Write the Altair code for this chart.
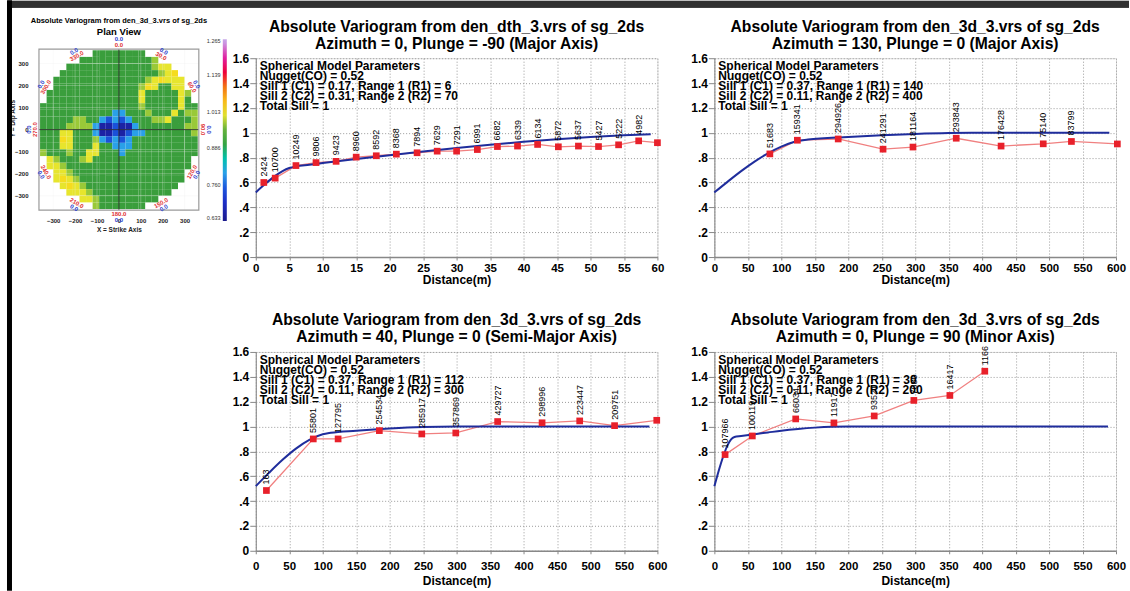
import altair as alt
import numpy as np
import pandas as pd

FONT = "Liberation Sans"

# ---------------- plan view map (cell levels, 30 m cells from -360 to 360) ----------------
plan_rows = [
    "........gggggggg........",
    "......gggggggggggl......",
    "....ggggggggggggglyy....",
    "...ggggggggggggggglyY...",
    "..gggggggggggggglyYyyy..",
    "..ggggggggggggglYyggyy..",
    ".ggggggggggggggygggggyl.",
    ".ggggggggggggggygggggyg.",
    "ggggggggggggggglgggggygg",
    "gggggggggggccggglgggygll",
    "gggggllggcbcbcgggllygggl",
    "ggggllllcBBbBBcgggggggll",
    "gggyygggcBBbBbccgggggggl",
    "gggYyggglcbcbcgggggggggg",
    "gggyygggyggcccgggggggggg",
    "lggglggyygggcggggggggggg",
    ".ylggglyggggggggggggggg.",
    ".yylggggggggggggggggggg.",
    "..yylggggggggggggggggg..",
    "..yYylgggggggggggggggg..",
    "...yYylgggggggggggggg...",
    "....yyylgggggggggggg....",
    "......yylggggggggg......",
    "........lggggggg........",
]
plan_levels = {"B": 0.66, "b": 0.74, "c": 0.80, "g": 0.93, "l": 0.975, "y": 1.005, "Y": 1.025}
plan_cell = 30
plan_extent = 360
plan_ticks = [-300, -200, -100, 0, 100, 200, 300]
plan_grid = [-300, -200, -100, 100, 200, 300]
plan_title = "Absolute Variogram from den_3d_3.vrs of sg_2ds"
plan_subtitle = "Plan View"

color_stops = [0.633, 0.70, 0.76, 0.80, 0.84, 0.87, 0.93, 0.97, 1.00, 1.013, 1.07, 1.139, 1.20, 1.265]
color_hex = ["#1a1a8c", "#1c2fc8", "#2060e0", "#2aa0e8", "#30c8d0", "#2aa84a", "#3a9e3c",
             "#8cc43a", "#e0e030", "#f2ec28", "#f5a020", "#e82020", "#e020a0", "#c8a8e8"]
colorbar_ticks = [0.633, 0.760, 0.886, 1.013, 1.139, 1.265]

azimuths = [0, 30, 60, 90, 120, 150, 180, 210, 240, 270, 300, 330]
azimuth_text = ["0.0", "30.0", "60.0", "90.0", "120.0", "150.0", "180.0", "210.0", "240.0", "270.0", "300.0", "330.0"]
plunge_text = ["0.0"] * 12

# ---------------- experimental variograms ----------------
panel_titles = [
    ["Absolute Variogram from den_dth_3.vrs of sg_2ds", "Azimuth = 0, Plunge = -90 (Major Axis)"],
    ["Absolute Variogram from den_3d_3.vrs of sg_2ds", "Azimuth = 130, Plunge = 0 (Major Axis)"],
    ["Absolute Variogram from den_3d_3.vrs of sg_2ds", "Azimuth = 40, Plunge = 0 (Semi-Major Axis)"],
    ["Absolute Variogram from den_3d_3.vrs of sg_2ds", "Azimuth = 0, Plunge = 90 (Minor Axis)"],
]
nugget = ["0.52", "0.52", "0.52", "0.52"]
sill1 = ["0.17", "0.37", "0.37", "0.37"]
range1 = ["6", "140", "112", "30"]
sill2 = ["0.31", "0.11", "0.11", "0.11"]
range2 = ["70", "400", "300", "200"]
x_max = [60, 600, 600, 600]
x_step = [5, 50, 50, 50]

lag_h1 = [1.2, 2.9, 6.0, 9.0, 12.0, 15.0, 18.0, 21.0, 24.1, 27.1, 30.0, 33.1, 36.1, 39.1, 42.1, 45.2, 48.2, 51.2, 54.2, 57.2, 60.0]
lag_g1 = [0.60, 0.635, 0.736, 0.76, 0.77, 0.804, 0.815, 0.828, 0.839, 0.852, 0.852, 0.865, 0.889, 0.893, 0.906, 0.887, 0.893, 0.889, 0.903, 0.935, 0.92]
lag_n1 = ["2424", "10700", "10249", "9806", "9423", "8960", "8592", "8368", "7894", "7629", "7291", "6991", "6682", "6339", "6134", "5872", "5637", "5427", "5222", "4982", ""]

lag_h2 = [82.9, 124, 185, 252, 296.7, 361.3, 428.3, 491.3, 533.4, 602]
lag_g2 = [0.83, 0.94, 0.95, 0.868, 0.885, 0.956, 0.893, 0.911, 0.93, 0.91]
lag_n2 = ["51683", "159341", "294926", "241291", "181164", "293843", "176428", "75140", "83799", ""]

lag_h3 = [15.9, 85.9, 123, 184.6, 248, 298.8, 361.3, 427.7, 483.9, 536, 599]
lag_g3 = [0.485, 0.90, 0.90, 0.967, 0.94, 0.948, 1.04, 1.03, 1.045, 1.007, 1.05]
lag_n3 = ["163", "55801", "127795", "254534", "285917", "357869", "429727", "298996", "223447", "209751", ""]

lag_h4 = [16, 56.7, 121.5, 178.6, 238.8, 298, 351.8, 404]
lag_g4 = [0.774, 0.924, 1.061, 1.029, 1.085, 1.21, 1.25, 1.445]
lag_n4 = ["107966", "100119", "66034", "11917", "93521", "7680", "16417", "1166"]

# fitted model curves
model_h1 = [0, 1, 2, 3, 4, 5, 6, 8, 10, 15, 20, 25, 30, 35, 40, 45, 50, 55, 59]
model_g1 = [0.52, 0.569, 0.615, 0.657, 0.691, 0.716, 0.730, 0.743, 0.756, 0.788, 0.819, 0.849, 0.877, 0.903, 0.927, 0.948, 0.966, 0.980, 0.989]
model_h2 = [0, 20, 40, 60, 80, 100, 120, 140, 200, 250, 300, 350, 400, 590]
model_g2 = [0.52, 0.607, 0.691, 0.768, 0.835, 0.889, 0.927, 0.945, 0.966, 0.980, 0.991, 0.998, 1.0, 1.0]
model_h3 = [0, 20, 40, 60, 80, 100, 112, 150, 200, 250, 300, 588]
model_g3 = [0.52, 0.629, 0.732, 0.822, 0.892, 0.937, 0.949, 0.966, 0.984, 0.996, 1.0, 1.0]
model_h4 = [0, 5, 10, 15, 20, 25, 30, 40, 60, 80, 100, 125, 150, 175, 200, 588]
model_g4 = [0.52, 0.616, 0.706, 0.787, 0.852, 0.896, 0.915, 0.923, 0.938, 0.952, 0.966, 0.980, 0.991, 0.998, 1.0, 1.0]

y_ticks = [0, 0.2, 0.4, 0.6, 0.8, 1.0, 1.2, 1.4, 1.6]


def variogram_panel(k, lag_h, lag_g, lag_n, model_h, model_g, label_pad, title_pad):
    pairs = pd.DataFrame({"h": lag_h, "gamma": lag_g, "npairs": lag_n})
    model = pd.DataFrame({"h": model_h, "gamma": model_g})
    x_vals = list(range(0, x_max[k] + 1, x_step[k]))
    x_axis = alt.Axis(values=x_vals, tickCount=len(x_vals), title="Distance(m)",
                      titleFontSize=12, titleFontWeight="bold", titleColor="black", titlePadding=title_pad,
                      labelFontSize=11.5, labelFontWeight="bold", labelColor="black", labelPadding=label_pad,
                      tickSize=3, tickColor="#888888", domainColor="#888888", domainWidth=1.5,
                      grid=True, gridColor="#9a9a9a", gridDash=[1, 2], labelFlush=False, labelOverlap=False)
    y_axis = alt.Axis(values=y_ticks, tickCount=len(y_ticks), title=None, labelOverlap=False, labelFlush=False,
                      labelExpr="datum.value == 0 ? '0' : datum.value == 1 ? '1' : datum.value < 1 ? replace(format(datum.value, '.1f'), '0.', '.') : format(datum.value, '.1f')",
                      labelFontSize=12, labelFontWeight="bold", labelColor="black", labelPadding=1,
                      tickSize=6, tickColor="#888888", domainColor="#888888",
                      grid=True, gridColor="#9a9a9a", gridDash=[1, 2])
    xs = alt.Scale(domain=[0, x_max[k]], nice=False, zero=False)
    ys = alt.Scale(domain=[0, 1.6], nice=False)

    exp_line = alt.Chart(pairs).mark_line(color="#f08080", strokeWidth=1.3).encode(
        x=alt.X("h:Q", scale=xs, axis=x_axis), y=alt.Y("gamma:Q", scale=ys, axis=y_axis))
    model_line = alt.Chart(model).mark_line(color="#1f2d9c", strokeWidth=2, interpolate="monotone").encode(
        x="h:Q", y="gamma:Q")
    squares = alt.Chart(pairs).mark_square(color="#e8202a", size=45, opacity=1).encode(x="h:Q", y="gamma:Q")
    counts = alt.Chart(pairs).mark_text(angle=270, align="left", baseline="middle", dx=6, fontSize=9,
                                        font=FONT, color="black").encode(x="h:Q", y="gamma:Q", text="npairs:N")
    params = [
        "Spherical Model Parameters",
        f"Nugget(CO) = {nugget[k]}",
        f"Sill 1 (C1) = {sill1[k]}, Range 1 (R1) = {range1[k]}",
        f"Sill 2 (C2) = {sill2[k]}, Range 2 (R2) = {range2[k]}",
        "Total Sill = 1",
    ]
    box = alt.Chart(alt.Data(values=[{}])).mark_text(align="left", baseline="top", fontSize=12,
                                                      fontWeight="bold", lineHeight=10, font=FONT,
                                                      color="black").encode(
        x=alt.value(4), y=alt.value(3), text=alt.value(params))
    return alt.layer(exp_line, model_line, squares, counts, box).properties(
        width=402, height=199,
        title=alt.TitleParams(text=panel_titles[k], fontSize=15.7, fontWeight="bold", font=FONT,
                              color="black", anchor="middle", offset=0, lineHeight=17, frame="group"))


# ---- plan view table ----
cells = []
for i, row in enumerate(plan_rows):
    for j, ch in enumerate(row):
        if ch in plan_levels:
            left = -plan_extent + j * plan_cell
            top = plan_extent - i * plan_cell
            cells.append({"x0": left, "x1": left + plan_cell, "y0": top - plan_cell, "y1": top,
                          "v": plan_levels[ch]})
cells = pd.DataFrame(cells)

az = np.radians(azimuths)
ring = pd.DataFrame({
    "ax": 385 * np.sin(az), "ay": 385 * np.cos(az),
    "bx": 410 * np.sin(az), "by": 410 * np.cos(az),
    "az_txt": azimuth_text, "pl_txt": plunge_text,
    "rot": [(a if (a <= 90 or a >= 270) else a - 180) % 360 for a in azimuths],
})

px = alt.Scale(domain=[-365, 365], nice=False, zero=False)
py = alt.Scale(domain=[-365, 324], nice=False, zero=False)

heat = alt.Chart(cells).mark_rect(strokeWidth=0).encode(
    x=alt.X("x0:Q", scale=px, axis=alt.Axis(values=plan_ticks, tickCount=7, title="X = Strike Axis", grid=False,
                                            domain=False, ticks=False, labelFontSize=6, labelFontWeight="bold",
                                            labelColor="#222222", labelPadding=7, titleFontSize=6.5,
                                            titleFontWeight="bold", titleColor="#222222", titlePadding=3)),
    x2="x1:Q",
    y=alt.Y("y0:Q", scale=py, axis=alt.Axis(values=plan_ticks, tickCount=7, title="Y = Dip Axis", grid=False,
                                            domain=False, ticks=False, labelFontSize=6, labelFontWeight="bold",
                                            labelColor="#222222", labelPadding=11, titleFontSize=6.5,
                                            titleFontWeight="bold", titleColor="#222222", titleX=-23, titleY=60)),
    y2="y1:Q",
    color=alt.Color("v:Q", scale=alt.Scale(domain=color_stops, range=color_hex),
                    legend=alt.Legend(orient="none", legendX=184, legendY=-19, direction="vertical",
                                      gradientLength=182, gradientThickness=4, title=None,
                                      values=colorbar_ticks, format=".3f", labelFontSize=5.5, labelFont=FONT,
                                      labelOffset=alt.ExprRef(expr="-20"),
                                      labelColor="#333333",
                                      gradientStrokeWidth=0, labelOverlap=False, padding=0)),
)
grid_df = pd.DataFrame({"p": plan_grid})
vgrid = alt.Chart(grid_df).mark_rule(color="#eeeeee", strokeWidth=0.6, opacity=0.5).encode(
    x="p:Q", y=alt.datum(-365), y2=alt.datum(365))
hgrid = alt.Chart(grid_df).mark_rule(color="#eeeeee", strokeWidth=0.6, opacity=0.5).encode(
    y="p:Q", x=alt.datum(-365), x2=alt.datum(365))
cross = pd.DataFrame({"p": [0]})
cross_v = alt.Chart(cross).mark_rule(color="#202020", strokeWidth=0.8).encode(
    x="p:Q", y=alt.datum(-365), y2=alt.datum(365))
cross_h = alt.Chart(cross).mark_rule(color="#202020", strokeWidth=0.8).encode(
    y="p:Q", x=alt.datum(-365), x2=alt.datum(365))
frame = alt.Chart(alt.Data(values=[{}])).mark_rect(filled=False, stroke="#9a9a9a", strokeWidth=1.2).encode(
    x=alt.datum(-365), x2=alt.datum(365), y=alt.datum(-365), y2=alt.datum(365))
az_labels = alt.Chart(ring).mark_text(fontSize=6, fontWeight="bold", color="#e03030", font=FONT).encode(
    x="ax:Q", y="ay:Q", text="az_txt:N", angle=alt.Angle("rot:Q", scale=None))
pl_labels = alt.Chart(ring).mark_text(fontSize=6, fontWeight="bold", color="#2a3ccc", font=FONT).encode(
    x="bx:Q", y="by:Q", text="pl_txt:N", angle=alt.Angle("rot:Q", scale=None))

one = alt.Data(values=[{}])
# heading of the map, set as text above the map frame
head = alt.Chart(one).mark_text(fontSize=7.5, fontWeight="bold", color="black", font=FONT,
                                align="center", baseline="middle").encode(
    x=alt.value(80), y=alt.value(-37), text=alt.value(plan_title))
subhead = alt.Chart(one).mark_text(fontSize=9.5, fontWeight="bold", color="black", font=FONT,
                                   align="center", baseline="middle").encode(
    x=alt.value(80), y=alt.value(-26), text=alt.value(plan_subtitle))

# page border: a black bar down the left edge and a band of thin strokes along the top edge
side_bar = alt.Chart(one).mark_rect(color="black", strokeWidth=0).encode(
    x=alt.value(-32), x2=alt.value(-27), y=alt.value(-58), y2=alt.value(533))
top_band = [
    alt.Chart(one).mark_rule(color="black", strokeWidth=1.05).encode(
        x=alt.value(-31), x2=alt.value(1091), y=alt.value(yy))
    for yy in [-57, -56, -55, -54, -53, -52, -51]
]

plan = alt.layer(heat, vgrid, hgrid, cross_v, cross_h, frame, az_labels, pl_labels, head, subhead,
                 side_bar, *top_band).properties(
    width=160, height=152, view=alt.ViewBackground(stroke=None))

blank = alt.Chart(one).mark_point(opacity=0).encode(x=alt.value(0), y=alt.value(0)).properties(
    width=160, height=199, view=alt.ViewBackground(stroke=None))

p1 = variogram_panel(0, lag_h1, lag_g1, lag_n1, model_h1, model_g1, 2, 1)
p2 = variogram_panel(1, lag_h2, lag_g2, lag_n2, model_h2, model_g2, 2, 1)
p3 = variogram_panel(2, lag_h3, lag_g3, lag_n3, model_h3, model_g3, 7, 3.5)
p4 = variogram_panel(3, lag_h4, lag_g4, lag_n4, model_h4, model_g4, 7, 3.5)

chart = alt.concat(plan, p1, p2, blank, p3, p4, columns=3,
                   spacing={"row": 95, "column": 57}, bounds="flush").properties(
    padding={"left": 7, "top": 0, "right": 0, "bottom": 0}
).configure_view(stroke="#8c8c8c", strokeWidth=1).configure(font=FONT)

chart.save("out.html", embed_options={"renderer": "svg", "actions": False})
